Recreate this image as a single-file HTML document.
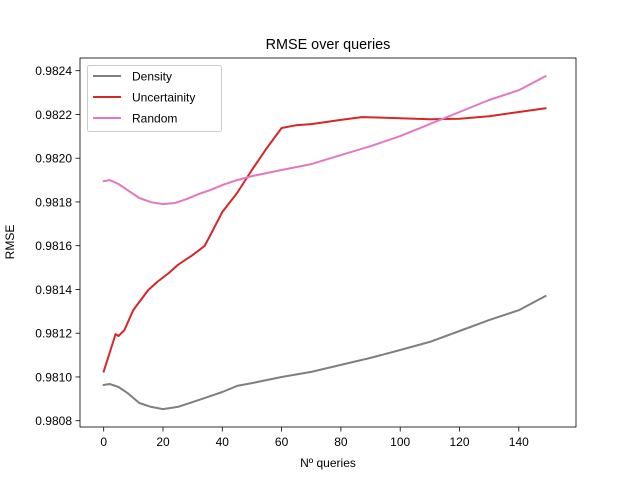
<!DOCTYPE html>
<html><head><meta charset="utf-8"><style>body{margin:0;background:#fff}svg{display:block;font-family:"Liberation Sans","DejaVu Sans",sans-serif}</style></head>
<body>
<svg id="chart" width="640" height="480"></svg>
<script>
const densityX=[0,2,5,8,12,16,20,25,30,35,40,45,50,60,70,80,90,100,110,120,130,140,149];
const densityY=[0.980963,0.980968,0.980954,0.980927,0.980881,0.980863,0.980853,0.980863,0.980885,0.980908,0.980931,0.980959,0.980972,0.981000,0.981023,0.981055,0.981087,0.981123,0.981160,0.981210,0.981260,0.981305,0.981370];
const uncX=[0,4,5,7,10,15,18,22,25,30,34,36,40,45,50,55,60,65,70,80,87,100,110,120,130,140,149];
const uncY=[0.981025,0.981196,0.981187,0.981215,0.981306,0.981397,0.981434,0.981475,0.981512,0.981557,0.981598,0.981649,0.981754,0.981841,0.981946,0.982046,0.982138,0.982151,0.982156,0.982175,0.982188,0.982183,0.982178,0.982180,0.982192,0.982211,0.982228];
const randX=[0,2,5,8,12,16,20,24,28,32,36,40,45,50,60,70,80,90,100,110,120,130,140,149];
const randY=[0.981895,0.981900,0.981882,0.981854,0.981818,0.981799,0.981790,0.981795,0.981813,0.981836,0.981854,0.981877,0.981900,0.981918,0.981946,0.981973,0.982014,0.982055,0.982101,0.982156,0.982211,0.982266,0.982311,0.982375];
const xTicks=[0,20,40,60,80,100,120,140];
const yTicks=[0.9808,0.9810,0.9812,0.9814,0.9816,0.9818,0.9820,0.9822,0.9824];
const svg=document.getElementById('chart');const NS='http://www.w3.org/2000/svg';
const L=80,R=576,T=58,B=427;
const xs=v=>103.7+(v/20)*59.3;
const ys=v=>420.7-(v-0.9808)/0.0002*43.75;
function mk(t,a,p){const e=document.createElementNS(NS,t);for(const k in a)e.setAttribute(k,a[k]);(p||svg).appendChild(e);return e;}
const title=mk('text',{x:328,y:49,'text-anchor':'middle','font-size':14.4,fill:'#000'});title.textContent='RMSE over queries';


xTicks.forEach(v=>{const x=xs(v);const l=mk('line',{x1:x,x2:x,y1:B,y2:B+4.5,stroke:'#000','stroke-width':0.8});


const t=mk('text',{x:x,y:B+19,'text-anchor':'middle','font-size':12});t.textContent=v;

});
yTicks.forEach(v=>{const y=ys(v);const l=mk('line',{x1:L-4.5,x2:L,y1:y,y2:y,stroke:'#000','stroke-width':0.8});


const t=mk('text',{x:L-8,y:y+4.5,'text-anchor':'end','font-size':12});t.textContent=v.toFixed(4);

});
const xt=mk('text',{x:328,y:467,'text-anchor':'middle','font-size':12});xt.textContent='Nº queries';


const yt=mk('text',{x:0,y:0,'text-anchor':'middle','font-size':12,transform:'translate(14,242) rotate(-90)'});yt.textContent='RMSE';


function line(X,Y,c,n){const d=X.map((x,i)=>(i?'L':'M')+xs(x).toFixed(1)+','+ys(Y[i]).toFixed(1)).join('');
const p=mk('path',{d:d,fill:'none',stroke:c,'stroke-width':2,'stroke-linejoin':'round','stroke-linecap':'square'});

}
line(densityX,densityY,'#7f7f7f','density-line');
line(uncX,uncY,'#d62728','uncertainty-line');
line(randX,randY,'#e377c2','random-line');
const fr=mk('rect',{x:L,y:T,width:R-L,height:B-T,fill:'none',stroke:'#000','stroke-width':0.8});


const lg=mk('g',{});


mk('rect',{x:87.5,y:65.5,width:134,height:66,rx:2,fill:'#fff','fill-opacity':0.8,stroke:'#ccc','stroke-width':1},lg);
[['Density','#7f7f7f'],['Uncertainity','#d62728'],['Random','#e377c2']].forEach((s,i)=>{const y=76+i*21;
const g=mk('g',{},lg);


mk('line',{x1:93,x2:121,y1:y,y2:y,stroke:s[1],'stroke-width':2},g);
const t=mk('text',{x:132,y:y+4.5,'font-size':12},g);t.textContent=s[0];});
</script>
</body></html>
